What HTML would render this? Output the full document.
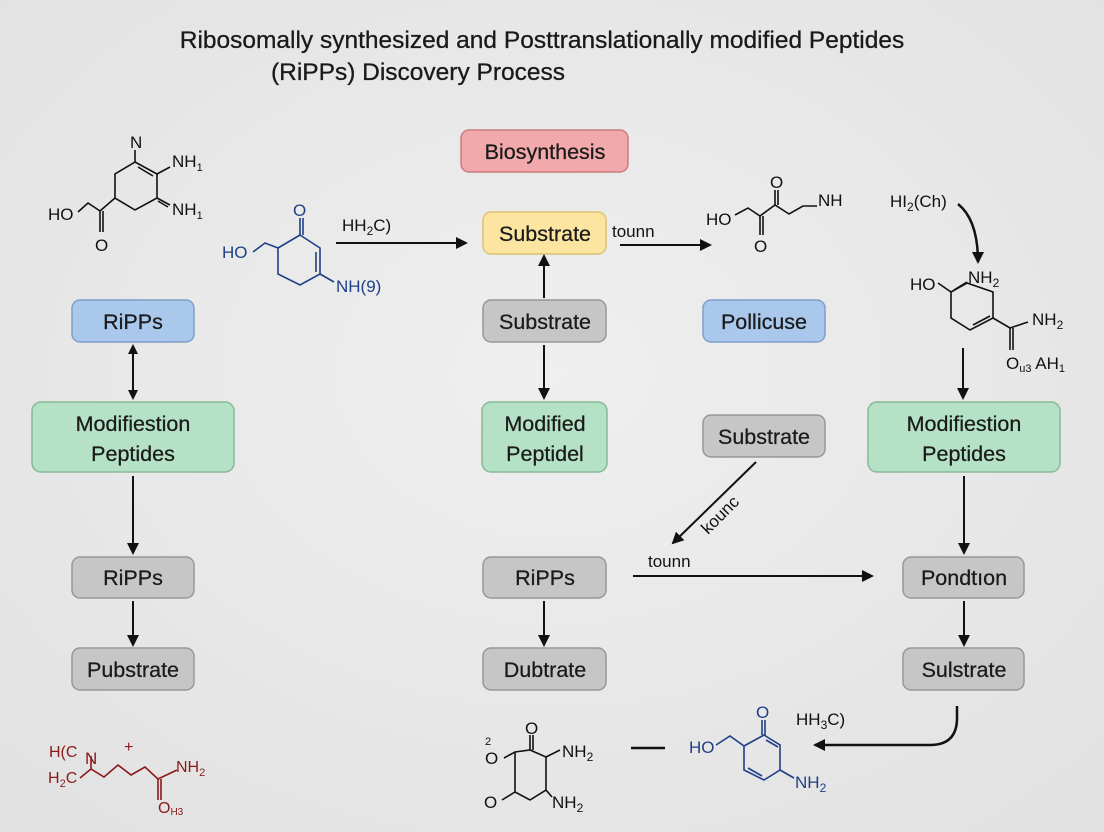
<!DOCTYPE html>
<html><head><meta charset="utf-8"><style>
html,body{margin:0;padding:0;}
body{width:1104px;height:832px;overflow:hidden;background:#e9e9e9;}
svg{display:block;font-family:"Liberation Sans",sans-serif;}
.bx{font-size:21.5px;fill:#1a1a1a;text-anchor:middle;stroke:#1a1a1a;stroke-width:0.25;}
.ch{font-size:17px;fill:#111;}
.bl{fill:#1f3f86;}
.rd{fill:#8b1a1a;}
</style></head><body>
<svg width="1104" height="832" viewBox="0 0 1104 832">
<defs>
<radialGradient id="bg" cx="50%" cy="45%" r="70%"><stop offset="0" stop-color="#efefef"/><stop offset="1" stop-color="#e2e2e2"/></radialGradient>
<marker id="ah" markerWidth="10" markerHeight="10" refX="8" refY="5" orient="auto" markerUnits="userSpaceOnUse"><path d="M0,0 L10,5 L0,10 z" fill="#111"/></marker>
<marker id="ah2" markerWidth="12" markerHeight="12" refX="10" refY="6" orient="auto" markerUnits="userSpaceOnUse"><path d="M0,0 L12,6 L0,12 z" fill="#111"/></marker>
<marker id="as" markerWidth="10" markerHeight="10" refX="2" refY="5" orient="auto" markerUnits="userSpaceOnUse"><path d="M10,0 L0,5 L10,10 z" fill="#111"/></marker>
</defs>
<rect width="1104" height="832" fill="url(#bg)"/>
<text x="542" y="48" font-size="24.5" text-anchor="middle" fill="#1a1a1a" stroke="#1a1a1a" stroke-width="0.3">Ribosomally synthesized and Posttranslationally modified Peptides</text>
<text x="418" y="80" font-size="24.5" text-anchor="middle" fill="#1a1a1a" stroke="#1a1a1a" stroke-width="0.3">(RiPPs) Discovery Process</text>

<g stroke-width="1.5">
<rect x="461" y="130" width="167" height="42" rx="8" fill="#f2a9ab" stroke="#c97c80"/>
<rect x="483" y="212" width="123" height="42" rx="8" fill="#fbe5a0" stroke="#dcc272"/>
<rect x="483" y="300" width="123" height="42" rx="8" fill="#c6c6c6" stroke="#979797"/>
<rect x="482" y="402" width="125" height="70" rx="9" fill="#b5e2c6" stroke="#86b996"/>
<rect x="703" y="300" width="122" height="42" rx="8" fill="#a9c8ec" stroke="#7f9fc6"/>
<rect x="703" y="415" width="122" height="42" rx="8" fill="#c6c6c6" stroke="#979797"/>
<rect x="72" y="300" width="122" height="42" rx="8" fill="#a9c8ec" stroke="#7f9fc6"/>
<rect x="32" y="402" width="202" height="70" rx="9" fill="#b5e2c6" stroke="#86b996"/>
<rect x="72" y="557" width="122" height="41" rx="8" fill="#c6c6c6" stroke="#979797"/>
<rect x="72" y="648" width="122" height="42" rx="8" fill="#c6c6c6" stroke="#979797"/>
<rect x="483" y="557" width="123" height="41" rx="8" fill="#c6c6c6" stroke="#979797"/>
<rect x="483" y="648" width="123" height="42" rx="8" fill="#c6c6c6" stroke="#979797"/>
<rect x="868" y="402" width="192" height="70" rx="9" fill="#b5e2c6" stroke="#86b996"/>
<rect x="903" y="557" width="121" height="41" rx="8" fill="#c6c6c6" stroke="#979797"/>
<rect x="903" y="648" width="121" height="42" rx="8" fill="#c6c6c6" stroke="#979797"/>
</g>
<text class="bx" x="545" y="159">Biosynthesis</text>
<text class="bx" x="545" y="241">Substrate</text>
<text class="bx" x="545" y="329">Substrate</text>
<text class="bx" x="545" y="431">Modified</text>
<text class="bx" x="545" y="461">Peptidel</text>
<text class="bx" x="764" y="329">Pollicuse</text>
<text class="bx" x="764" y="444">Substrate</text>
<text class="bx" x="133" y="329">RiPPs</text>
<text class="bx" x="133" y="431">Modifiestion</text>
<text class="bx" x="133" y="461">Peptides</text>
<text class="bx" x="133" y="585">RiPPs</text>
<text class="bx" x="133" y="677">Pubstrate</text>
<text class="bx" x="545" y="585">RiPPs</text>
<text class="bx" x="545" y="677">Dubtrate</text>
<text class="bx" x="964" y="431">Modifiestion</text>
<text class="bx" x="964" y="461">Peptides</text>
<text class="bx" x="964" y="585">Pondtıon</text>
<text class="bx" x="964" y="677">Sulstrate</text>

<g stroke="#111" stroke-width="2" fill="none">
<line x1="336" y1="243" x2="466" y2="243" marker-end="url(#ah2)"/>
<line x1="620" y1="245" x2="710" y2="245" marker-end="url(#ah2)"/>
<line x1="544" y1="298" x2="544" y2="256" marker-end="url(#ah2)"/>
<line x1="544" y1="345" x2="544" y2="398" marker-end="url(#ah2)"/>
<line x1="133" y1="346" x2="133" y2="398" marker-start="url(#as)" marker-end="url(#ah)"/>
<line x1="133" y1="476" x2="133" y2="553" marker-end="url(#ah2)"/>
<line x1="133" y1="601" x2="133" y2="645" marker-end="url(#ah2)"/>
<line x1="544" y1="601" x2="544" y2="645" marker-end="url(#ah2)"/>
<line x1="964" y1="476" x2="964" y2="553" marker-end="url(#ah2)"/>
<line x1="964" y1="601" x2="964" y2="645" marker-end="url(#ah2)"/>
<line x1="963" y1="348" x2="963" y2="398" marker-end="url(#ah2)"/>
<path d="M958,204 Q978,220 978,262" stroke-width="2.5" marker-end="url(#ah2)"/>
<line x1="756" y1="462" x2="673" y2="543" marker-end="url(#ah2)"/>
<line x1="633" y1="576" x2="872" y2="576" marker-end="url(#ah2)"/>
<path d="M957,706 L957,718 Q957,745 930,745 L815,745" stroke-width="2.5" marker-end="url(#ah2)"/>
<line x1="631" y1="748" x2="665" y2="748" stroke-width="2.5"/>
</g>
<text x="342" y="231" class="ch">HH<tspan font-size="12" dy="4">2</tspan><tspan dy="-4">C)</tspan></text>
<text x="612" y="237" class="ch">tounn</text>
<text x="648" y="567" class="ch">tounn</text>
<text x="0" y="0" class="ch" transform="translate(708,535) rotate(-45)">kounc</text>

<g stroke="#111" stroke-width="1.6" fill="none">
<path d="M135,150 L135,162 L157,174 L157,198 L135,210 L115,198 L115,174 L135,162"/>
<path d="M138,167 L153,176"/>
<path d="M157,174 L170,167 M157,198 L170,205 M158,201 L168,207"/>
<path d="M78,212 L88,203 L100,211 L115,198 M100,211 L100,232 M103,211 L103,232"/>
</g>
<text x="130" y="148" class="ch">N</text>
<text x="172" y="167" class="ch">NH<tspan font-size="11" dy="4">1</tspan></text>
<text x="172" y="215" class="ch">NH<tspan font-size="11" dy="4">1</tspan></text>
<text x="48" y="220" class="ch">HO</text>
<text x="95" y="251" class="ch">O</text>

<g stroke="#1f3f86" stroke-width="1.6" fill="none">
<path d="M300,235 L320,248 L320,274 L300,285 L278,274 L278,248 Z"/>
<path d="M316,252 L316,272"/>
<path d="M300,235 L300,218 M303,235 L303,218"/>
<path d="M278,248 L265,243 L253,252"/>
<path d="M320,274 L334,282"/>
</g>
<text x="293" y="216" class="ch bl">O</text>
<text x="222" y="258" class="ch bl">HO</text>
<text x="336" y="292" class="ch bl">NH(9)</text>

<g stroke="#111" stroke-width="1.6" fill="none">
<path d="M735,215 L748,208 L760,216 L775,205 L789,214 L803,206 L817,206"/>
<path d="M760,216 L760,235 M763,216 L763,235"/>
<path d="M775,205 L775,190 M778,205 L778,190"/>
</g>
<text x="706" y="225" class="ch">HO</text>
<text x="754" y="252" class="ch">O</text>
<text x="770" y="188" class="ch">O</text>
<text x="818" y="206" class="ch">NH</text>

<text x="890" y="207" class="ch">HI<tspan font-size="12" dy="4">2</tspan><tspan dy="-4">(Ch)</tspan></text>
<g stroke="#111" stroke-width="1.6" fill="none">
<path d="M938,283 L951,292 L967,283 L993,292 L993,318 L970,330 L951,318 L951,292"/>
<path d="M954,290 L967,282"/>
<path d="M973,325 L990,316"/>
<path d="M993,318 L1010,328 L1028,322 M1010,328 L1010,350 M1013,328 L1013,350"/>
</g>
<text x="910" y="290" class="ch">HO</text>
<text x="968" y="283" class="ch">NH<tspan font-size="12" dy="4">2</tspan></text>
<text x="1032" y="325" class="ch">NH<tspan font-size="12" dy="4">2</tspan></text>
<text x="1006" y="369" class="ch">O<tspan font-size="11" dy="3">u3</tspan><tspan dy="-3"> AH</tspan><tspan font-size="11" dy="3">1</tspan></text>

<g stroke="#8b1a1a" stroke-width="1.6" fill="none">
<path d="M80,778 L91,769 L104,777 L118,765 L131,775 L145,767 L158,779 L177,770"/>
<path d="M91,769 L91,756"/>
<path d="M158,779 L158,800 M161,779 L161,800"/>
</g>
<text x="49" y="757" font-size="16" class="rd">H(C</text>
<text x="85" y="764" font-size="17" class="rd">N</text>
<text x="124" y="752" font-size="16" class="rd">+</text>
<text x="48" y="783" font-size="16" class="rd">H<tspan font-size="11" dy="4">2</tspan><tspan dy="-4">C</tspan></text>
<text x="176" y="772" font-size="16" class="rd">NH<tspan font-size="11" dy="4">2</tspan></text>
<text x="158" y="813" font-size="16" class="rd">O<tspan font-size="10" dy="2">H3</tspan></text>

<g stroke="#111" stroke-width="1.6" fill="none">
<path d="M504,758 L515,752 L530,750 L546,757 L546,790 L530,800 L515,792 L515,752"/>
<path d="M530,750 L530,735 M533,750 L533,735"/>
<path d="M546,757 L560,750 M546,790 L552,797"/>
<path d="M515,792 L502,800"/>
</g>
<text x="485" y="745" font-size="11" fill="#111">2</text>
<text x="485" y="764" class="ch">O</text>
<text x="525" y="734" class="ch">O</text>
<text x="562" y="757" class="ch">NH<tspan font-size="12" dy="4">2</tspan></text>
<text x="552" y="808" class="ch">NH<tspan font-size="12" dy="4">2</tspan></text>
<text x="484" y="808" class="ch">O</text>

<g stroke="#1f3f86" stroke-width="1.6" fill="none">
<path d="M716,745 L730,736 L744,746"/>
<path d="M744,746 L764,735 L780,745 L780,770 L764,780 L744,770 Z"/>
<path d="M766,740 L778,747 M748,768 L762,776"/>
<path d="M762,735 L762,720 M765,735 L765,720"/>
<path d="M780,770 L794,778"/>
</g>
<text x="756" y="718" class="ch bl">O</text>
<text x="689" y="753" class="ch bl">HO</text>
<text x="795" y="788" class="ch bl">NH<tspan font-size="12" dy="4">2</tspan></text>
<text x="796" y="725" class="ch">HH<tspan font-size="12" dy="4">3</tspan><tspan dy="-4">C)</tspan></text>
</svg>
</body></html>
